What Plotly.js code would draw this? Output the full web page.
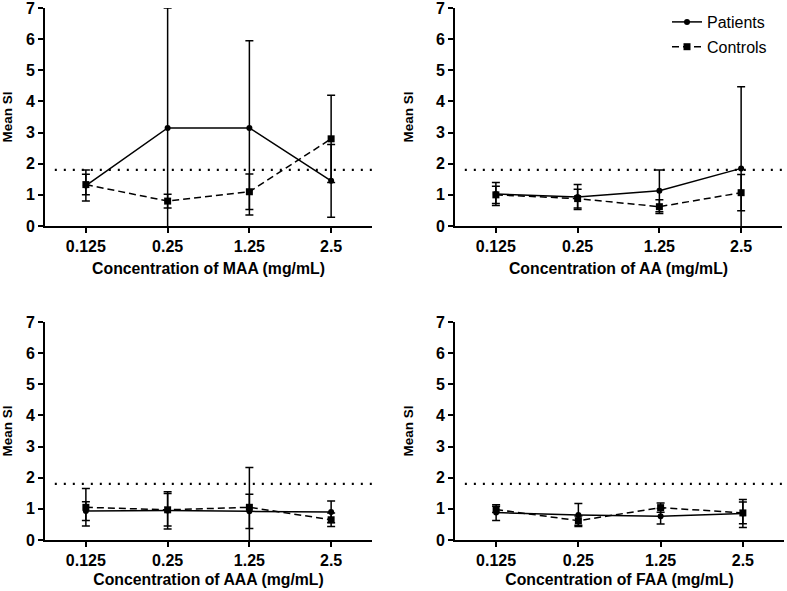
<!DOCTYPE html>
<html>
<head>
<meta charset="utf-8">
<script src="https://cdn.plot.ly/plotly-3.0.1.min.js"></script>
<style>html,body{margin:0;padding:0;background:#fff;}#chart{width:787px;height:591px;}</style>
</head>
<body>
<div id="chart"></div>
<script>
// ---- data ----
const concentrations = ["0.125", "0.25", "1.25", "2.5"];
const agents = ["MAA", "AA", "AAA", "FAA"];
const threshold = 1.8;
const seriesNames = ["Patients", "Controls"];
const yTicks = [0, 1, 2, 3, 4, 5, 6, 7];

const maaPatients   = [1.30, 3.15, 3.15, 1.45];
const maaPatientsSD = [0.50, 3.85, 2.80, 1.17];
const maaControls   = [1.33, 0.80, 1.10, 2.80];
const maaControlsSD = [0.33, 0.22, 0.57, 1.40];

const aaPatients    = [1.03, 0.93, 1.13, 1.85];
const aaPatientsSD  = [0.37, 0.40, 0.67, 2.62];
const aaControls    = [1.00, 0.88, 0.62, 1.07];
const aaControlsSD  = [0.28, 0.30, 0.22, 0.58];

const aaaPatients   = [0.93, 0.95, 0.92, 0.90];
const aaaPatientsSD = [0.30, 0.60, 0.55, 0.35];
const aaaControls   = [1.05, 0.97, 1.05, 0.65];
const aaaControlsSD = [0.60, 0.52, 1.28, 0.22];

const faaPatients   = [0.88, 0.80, 0.76, 0.85];
const faaPatientsSD = [0.25, 0.37, 0.25, 0.45];
const faaControls   = [0.98, 0.62, 1.04, 0.87];
const faaControlsSD = [0.10, 0.15, 0.15, 0.35];

const panelPatients   = [maaPatients, aaPatients, aaaPatients, faaPatients];
const panelPatientsSD = [maaPatientsSD, aaPatientsSD, aaaPatientsSD, faaPatientsSD];
const panelControls   = [maaControls, aaControls, aaaControls, faaControls];
const panelControlsSD = [maaControlsSD, aaControlsSD, aaaControlsSD, faaControlsSD];

// ---- build figure ----
const FONT = "Liberation Sans, Arial, sans-serif";
const W = 787, H = 591;
const px = v => v / W;
const py = v => 1 - v / H;

const xDomains = [[px(45), px(372)], [px(455), px(782)], [px(45), px(372)], [px(455), px(784)]];
const yDomains = [[py(226), py(8)], [py(226), py(8)], [py(540), py(322)], [py(540), py(322)]];
const yTitleStandoff = [11, 19, 11, 19];
const xTitleStandoff = [9, 9, 6, 6];

const traces = [];
const layout = {
  width: W, height: H,
  margin: {l: 0, r: 0, t: 0, b: 0},
  paper_bgcolor: "#fff", plot_bgcolor: "#fff",
  font: {family: FONT, color: "#000"},
  showlegend: true,
  legend: {
    x: px(667), y: py(5), xanchor: "left", yanchor: "top",
    font: {family: FONT, size: 16, color: "#000"},
    bgcolor: "rgba(0,0,0,0)", borderwidth: 0,
    itemwidth: 30, tracegroupgap: 1
  },
  shapes: []
};

for (let i = 0; i < 4; i++) {
  const sfx = i === 0 ? "" : String(i + 1);
  const xa = "x" + sfx, ya = "y" + sfx;
  const errStyle = {type: "data", visible: true, color: "#000", thickness: 1.5, width: 4};
  traces.push({
    type: "scatter", mode: "lines+markers", name: seriesNames[0],
    x: concentrations, y: panelPatients[i],
    error_y: Object.assign({array: panelPatientsSD[i]}, errStyle),
    line: {color: "#000", width: 1.5},
    marker: {symbol: "circle", size: 6, color: "#000"},
    xaxis: xa, yaxis: ya, showlegend: i === 1, legendgroup: "p", cliponaxis: false
  });
  traces.push({
    type: "scatter", mode: "lines+markers", name: seriesNames[1],
    x: concentrations, y: panelControls[i],
    error_y: Object.assign({array: panelControlsSD[i]}, errStyle),
    line: {color: "#000", width: 1.5, dash: "7px,4px"},
    marker: {symbol: "square", size: 7, color: "#000"},
    xaxis: xa, yaxis: ya, showlegend: i === 1, legendgroup: "c", cliponaxis: false
  });

  layout["xaxis" + sfx] = {
    domain: xDomains[i], anchor: ya, type: "category",
    range: [-0.5, 3.5], tickvals: concentrations, ticktext: concentrations,
    showline: true, linecolor: "#000", linewidth: 2,
    ticks: "outside", ticklen: 5, tickwidth: 2, tickcolor: "#000",
    showgrid: false, zeroline: false,
    tickfont: {family: FONT, size: 16, color: "#000", weight: "bold"},
    title: {text: "Concentration of " + agents[i] + " (mg/mL)",
            font: {family: FONT, size: 15.8, color: "#000", weight: "bold"}, standoff: xTitleStandoff[i]}
  };
  layout["yaxis" + sfx] = {
    domain: yDomains[i], anchor: xa,
    range: [0, 7.001], tickvals: yTicks, ticktext: yTicks.map(String),
    showline: true, linecolor: "#000", linewidth: 2,
    ticks: "outside", ticklen: 5, tickwidth: 2, tickcolor: "#000",
    showgrid: false, zeroline: false, ticklabeloverflow: "allow",
    tickfont: {family: FONT, size: 16, color: "#000", weight: "bold"},
    title: {text: "Mean SI", font: {family: FONT, size: 13.5, color: "#000", weight: "bold"},
            standoff: yTitleStandoff[i]}
  };
  layout.shapes.push({
    type: "line", xref: xa + " domain", yref: ya,
    x0: 0.03, x1: 1, y0: threshold, y1: threshold,
    line: {color: "#000", width: 2.2, dash: "2px,7px"}
  });
}

Plotly.newPlot("chart", traces, layout, {staticPlot: true, displayModeBar: false});
</script>
</body>
</html>
